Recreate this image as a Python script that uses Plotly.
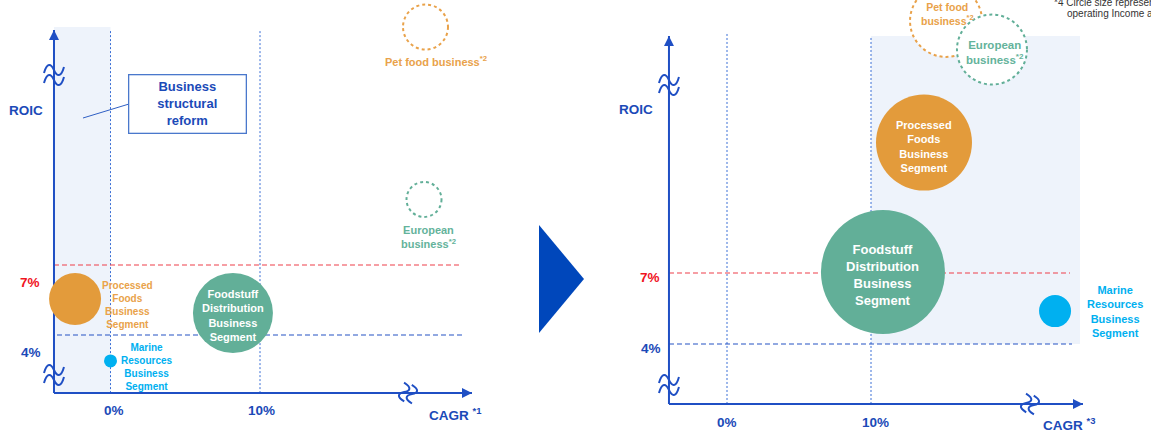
import math
import plotly.graph_objects as go

# ---------------- data ----------------
segments = ["Processed Foods<br>Business Segment", "Foodstuff Distribution<br>Business Segment", "Marine Resources<br>Business Segment"]
planned = ["Pet food business", "European business"]

# Left panel (before): CAGR (%), ROIC (%), bubble size (operating income, px diameter)
left_cagr = [-2.37, 8.19, 0.0]
left_roic = [5.54, 4.94, 2.89]
left_size = [52, 80, 13]
left_plan_cagr = [21.07, 20.97]
left_plan_roic = [17.2, 9.81]
left_plan_size = [45, 35]

# Right panel (target)
right_cagr = [13.68, 10.83, 22.78]
right_roic = [12.51, 7.04, 5.39]
right_size = [96, 124, 32]
right_plan_cagr = [15.21, 18.40]
right_plan_roic = [17.65, 16.44]
right_plan_size = [72, 70]

x_ticks = [0, 10]
x_tick_labels = ["0%", "10%"]
y_ticks = [4, 7]
y_tick_labels = ["4%", "7%"]

# ---------------- style ----------------
W, H = 1151, 433
FONT = "Liberation Sans, Arial, sans-serif"
BLUE = "#1F4FC4"
TXT_BLUE = "#1B4AB8"
DOT_BLUE = "#3B6FD6"
RED_LINE = "#EE3F4A"
RED_TXT = "#F0141E"
SHADE = "#EEF3FB"
ORANGE = "#E39B3B"
ORANGE_TXT = "#E9A24A"
GREEN = "#62AF98"
GREEN_TXT = "#64B39B"
CYAN = "#00B0F0"
seg_colors = [ORANGE, GREEN, CYAN]
plan_colors = [ORANGE_TXT, GREEN]

fig = go.Figure()

fig.add_trace(go.Scatter(x=left_cagr, y=left_roic, mode="markers", xaxis="x", yaxis="y",
                         hovertext=segments, hoverinfo="text",
                         marker=dict(size=left_size, sizemode="diameter", color=seg_colors,
                                     line=dict(width=0), opacity=1)))
fig.add_trace(go.Scatter(x=right_cagr, y=right_roic, mode="markers", xaxis="x2", yaxis="y2",
                         hovertext=segments, hoverinfo="text",
                         marker=dict(size=right_size, sizemode="diameter", color=seg_colors,
                                     line=dict(width=0), opacity=1)))

shapes = []
annotations = []


def ann(text, x, y, xref, yref, size, color, xshift=0, yshift=0, bold=True, xanchor="center", **kw):
    t = f"<b>{text}</b>" if bold else text
    d = dict(text=t, x=x, y=y, xref=xref, yref=yref, showarrow=False, xshift=xshift, yshift=yshift,
             xanchor=xanchor, yanchor="middle", align="center",
             font=dict(family=FONT, size=size, color=color))
    d.update(kw)
    annotations.append(d)


def wave_path(angle_deg, amp=6, half=10, gap=5):
    th = math.radians(angle_deg)
    c, s = math.cos(th), math.sin(th)

    def rot(p):
        return (p[0] * c - p[1] * s, p[0] * s + p[1] * c)

    out = []
    for dy in (-gap, gap):
        pts = [(-half, dy - amp * 0.5), (-half * 0.7, dy + amp * 1.3), (-half * 0.3, dy + amp * 1.1), (0, dy),
               (half * 0.3, dy - amp * 1.1), (half * 0.7, dy - amp * 1.3), (half, dy + amp * 0.5)]
        r = [rot(p) for p in pts]
        out.append("M {:.2f},{:.2f} C {:.2f},{:.2f} {:.2f},{:.2f} {:.2f},{:.2f} C {:.2f},{:.2f} {:.2f},{:.2f} {:.2f},{:.2f}".format(
            *[v for p in r for v in p]))
    return " ".join(out)


def panel(xr, yr, ax0, ay0, xtip, ytip, vtops, h7, h4, ybreaks, xbreak, shade, label_pos, cagr_note):
    # shading
    shapes.append(dict(type="rect", xref=xr, yref=yr, x0=shade[0], x1=shade[1], y0=shade[2], y1=shade[3],
                       fillcolor=SHADE, line=dict(width=0), layer="below"))
    # vertical dotted lines at tick values
    for t, top in zip(x_ticks, vtops):
        shapes.append(dict(type="line", xref=xr, yref=yr, x0=t, x1=t, y0=ay0, y1=top,
                           line=dict(color=DOT_BLUE, width=1, dash="2px,2px"), layer="below"))
    # horizontal dashed lines
    shapes.append(dict(type="line", xref=xr, yref=yr, x0=h7[0], x1=h7[1], y0=y_ticks[1], y1=y_ticks[1],
                       line=dict(color=RED_LINE, width=1.2, dash="5px,3px"), layer="below"))
    shapes.append(dict(type="line", xref=xr, yref=yr, x0=h4[0], x1=h4[1], y0=y_ticks[0], y1=y_ticks[0],
                       line=dict(color="#2452C4", width=1.2, dash="5px,3px"), layer="below"))
    # axes
    shapes.append(dict(type="line", xref=xr, yref=yr, x0=ax0, x1=ax0, y0=ay0, y1=ytip,
                       line=dict(color=BLUE, width=2), layer="below"))
    shapes.append(dict(type="line", xref=xr, yref=yr, x0=ax0, x1=xtip, y0=ay0, y1=ay0,
                       line=dict(color=BLUE, width=2), layer="below"))
    annotations.append(dict(x=ax0, y=ytip, xref=xr, yref=yr, ax=0, ay=12, text="", showarrow=True,
                            arrowhead=2, arrowsize=1, arrowwidth=2, arrowcolor=BLUE))
    annotations.append(dict(x=xtip, y=ay0, xref=xr, yref=yr, ax=-12, ay=0, text="", showarrow=True,
                            arrowhead=2, arrowsize=1, arrowwidth=2, arrowcolor=BLUE))
    # axis breaks
    for yb in ybreaks:
        shapes.append(dict(type="path", xref=xr, yref=yr, xsizemode="pixel", ysizemode="pixel",
                           xanchor=ax0, yanchor=yb, path=wave_path(0),
                           line=dict(color=BLUE, width=2), fillcolor="rgba(0,0,0,0)", layer="above"))
    shapes.append(dict(type="path", xref=xr, yref=yr, xsizemode="pixel", ysizemode="pixel",
                       xanchor=xbreak, yanchor=ay0, path=wave_path(75, amp=5, half=9, gap=4),
                       line=dict(color=BLUE, width=2), fillcolor="rgba(0,0,0,0)", layer="above"))
    # axis labels
    lp = label_pos
    ann("ROIC", lp["roic"][0], lp["roic"][1], xr, yr, 13.5, TXT_BLUE)
    ann(y_tick_labels[1], lp["y7"][0], lp["y7"][1], xr, yr, 13.5, RED_TXT)
    ann(y_tick_labels[0], lp["y4"][0], lp["y4"][1], xr, yr, 13.5, TXT_BLUE)
    for t, lab, dx in zip(x_ticks, x_tick_labels, lp["xdx"]):
        ann(lab, t + dx, lp["xy"], xr, yr, 13.5, TXT_BLUE)
    ann(cagr_note, lp["cagr"][0], lp["cagr"][1], xr, yr, 13.5, TXT_BLUE)


# ---- left panel decorations
panel("x", "y", ax0=-3.78, ay0=1.51, xtip=24.18, ytip=17.07, vtops=[17.07, 17.07],
      h7=(-3.78, 23.31), h4=(-3.58, 23.58), ybreaks=[15.14, 2.285], xbreak=19.9,
      shade=(-3.78, x_ticks[0], 1.51, 17.2),
      label_pos=dict(roic=(-5.65, 13.64), y7=(-5.38, 6.27), y4=(-5.32, 3.27), xdx=[0.23, 0.07], xy=0.785,
                     cagr=(23.04, 0.6)),
      cagr_note="CAGR <sup>*1</sup>")

# ---- right panel decorations
panel("x2", "y2", ax0=-4.03, ay0=1.466, xtip=24.72, ytip=17.01, vtops=[17.14, 17.01],
      h7=(-4.03, 23.82), h4=(-4.03, 23.96), ybreaks=[14.94, 2.27], xbreak=21.04,
      shade=(x_ticks[1], 24.51, y_ticks[0], 17.01),
      label_pos=dict(roic=(-6.32, 13.89), y7=(-5.35, 6.83), y4=(-5.28, 3.83), xdx=[0.0, 0.28], xy=0.663,
                     cagr=(23.75, 0.62)),
      cagr_note="CAGR <sup>*3</sup>")

# ---- dotted circles for planned businesses
for xr, yr, xs, ys, ss in (("x", "y", left_plan_cagr, left_plan_roic, left_plan_size),
                           ("x2", "y2", right_plan_cagr, right_plan_roic, right_plan_size)):
    for cx, cy, d, col in zip(xs, ys, ss, plan_colors):
        r = d / 2
        shapes.append(dict(type="circle", xref=xr, yref=yr, xsizemode="pixel", ysizemode="pixel",
                           xanchor=cx, yanchor=cy, x0=-r, x1=r, y0=-r, y1=r,
                           line=dict(color=col, width=2, dash="dot"), fillcolor="white", layer="above"))

# ---- business structural reform box
ann("Business<br>structural<br>reform", 5.18, 13.92, "x", "y", 13, TXT_BLUE,
    bordercolor="#4A78CC", borderwidth=1.3, borderpad=1, width=114, height=55, bgcolor="white")
shapes.append(dict(type="line", xref="x", yref="y", x0=-1.84, y0=13.30, x1=1.24, y1=13.90,
                   line=dict(color="#2F5FC4", width=1)))

# ---- bubble labels (left)
ann("Processed<br>Foods<br>Business<br>Segment", left_cagr[0], left_roic[0], "x", "y", 10, ORANGE_TXT,
    xshift=52.5, yshift=-5.5)
ann("Foodstuff<br>Distribution<br>Business<br>Segment", left_cagr[1], left_roic[1], "x", "y", 11, "white",
    yshift=-2)
ann("Marine<br>Resources<br>Business<br>Segment", left_cagr[2], left_roic[2], "x", "y", 10, CYAN,
    xshift=36.5, yshift=-6)
ann("Pet food business<sup>*2</sup>", left_plan_cagr[0], left_plan_roic[0], "x", "y", 11, ORANGE_TXT,
    xshift=10.5, yshift=-34)
ann("European<br>business<sup>*2</sup>", left_plan_cagr[1], left_plan_roic[1], "x", "y", 11, GREEN_TXT,
    xshift=4, yshift=-37.5)

# ---- bubble labels (right)
ann("Processed<br>Foods<br>Business<br>Segment", right_cagr[0], right_roic[0], "x2", "y2", 11, "white",
    yshift=-3.5)
ann("Foodstuff<br>Distribution<br>Business<br>Segment", right_cagr[1], right_roic[1], "x2", "y2", 13, "white",
    yshift=-2.5)
ann("Marine<br>Resources<br>Business<br>Segment", right_cagr[2], right_roic[2], "x2", "y2", 11, CYAN,
    xshift=60, yshift=0)
ann("Pet food<br>business<sup>*2</sup>", right_plan_cagr[0], right_plan_roic[0], "x2", "y2", 10.5, ORANGE_TXT,
    xshift=1, yshift=7)
ann("European<br>business<sup>*2</sup>", right_plan_cagr[1], right_plan_roic[1], "x2", "y2", 11.5, GREEN_TXT,
    xshift=3, yshift=-2.5)

# ---- footnote (cut off at the window edge)
ann("*4 Circle size represents", 1052 / W, 1 - 2 / H, "paper", "paper", 10, "#333333", bold=False,
    xanchor="left")
ann("operating Income amount", 1065 / W, 1 - 13.5 / H, "paper", "paper", 10, "#333333", bold=False,
    xanchor="left")

# ---- transition arrow between panels
shapes.append(dict(type="path", xref="paper", yref="paper",
                   path=f"M {539 / W:.5f},{1 - 225 / H:.5f} L {584 / W:.5f},{1 - 279 / H:.5f} L {539 / W:.5f},{1 - 333 / H:.5f} Z",
                   fillcolor="#0047BB", line=dict(width=0)))

axis_common = dict(visible=False, fixedrange=True, showgrid=False, zeroline=False)
fig.update_layout(
    width=W, height=H, margin=dict(l=0, r=0, t=0, b=0),
    paper_bgcolor="white", plot_bgcolor="rgba(0,0,0,0)",
    showlegend=False,
    xaxis=dict(domain=[0, 520 / W], range=[-7.391, 27.391], **axis_common),
    yaxis=dict(domain=[0, 1], range=[-0.2, 18.357], **axis_common),
    xaxis2=dict(domain=[560 / W, 1], range=[-11.597, 29.444], anchor="y2", **axis_common),
    yaxis2=dict(domain=[0, 1], range=[0.240, 18.534], anchor="x2", **axis_common),
    shapes=shapes,
    annotations=annotations,
)

fig.write_html("out.html", config={"displayModeBar": False})
